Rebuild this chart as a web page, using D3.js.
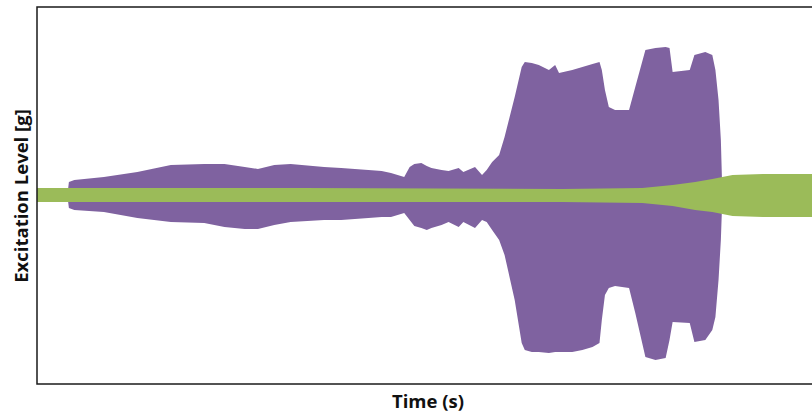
<!DOCTYPE html>
<meta charset="utf-8">
<script src="https://d3js.org/d3.v7.min.js"></script>
<style>
    body { margin: 0; background: #fff; }
    .axis-title { font-family: "Open Sans", sans-serif; font-weight: bold; fill: #111; }
</style>
<body>
</body>
<script>
    // Envelope of the two excitation signals
    // time in seconds, levels in g (upper and lower edge of each band)
    var purpleTime  = [3.9, 4.1, 4.8, 8.6, 12.9, 17.2, 21.5, 24.1, 26.7, 28.4, 30.5, 32.6, 36.9, 39.1, 42.6, 44.3, 45.5, 47.2, 47.9, 48.5, 49.4, 50.1, 50.7, 52.0, 52.9, 54.2, 54.8, 56.3, 57.2, 57.8, 58.5, 59.4, 60.1, 61.4, 62.3, 62.7, 63.6, 64.5, 65.8, 66.6, 67.1, 68.8, 70.1, 71.4, 72.3, 72.6, 73.0, 73.5, 74.3, 76.1, 76.9, 78.2, 79.5, 80.8, 81.3, 81.7, 83.9, 84.5, 85.9, 86.8, 87.2, 87.6, 87.9, 88.1];
    var purpleUpper = [0, 0.72, 0.82, 0.98, 1.25, 1.62, 1.67, 1.67, 1.51, 1.41, 1.62, 1.67, 1.51, 1.46, 1.35, 1.30, 1.19, 0.98, 1.51, 1.67, 1.72, 1.56, 1.46, 1.35, 1.30, 1.46, 1.25, 1.51, 1.09, 1.35, 1.78, 2.15, 3.10, 5.23, 6.82, 7.08, 7.03, 6.92, 6.66, 6.92, 6.50, 6.66, 6.82, 6.98, 7.08, 6.66, 5.60, 4.69, 4.54, 4.54, 5.76, 7.72, 7.82, 7.88, 7.82, 6.55, 6.66, 7.45, 7.61, 7.45, 6.66, 5.07, 2.94, 0];
    var purpleLower = [0, -0.66, -0.77, -0.88, -1.19, -1.41, -1.46, -1.67, -1.78, -1.78, -1.56, -1.41, -1.30, -1.30, -1.19, -1.14, -1.14, -0.93, -1.30, -1.62, -1.72, -1.83, -1.72, -1.56, -1.41, -1.67, -1.41, -1.72, -1.30, -1.41, -1.83, -2.36, -3.16, -5.54, -7.82, -8.20, -8.30, -8.30, -8.36, -8.30, -8.30, -8.30, -8.20, -8.04, -7.82, -6.60, -5.28, -4.91, -4.80, -4.91, -6.23, -8.57, -8.73, -8.62, -7.67, -6.71, -6.76, -7.77, -7.67, -7.14, -6.45, -4.48, -2.36, 0];

    var greenTime  = [0, 33.9, 67.5, 77.8, 81.7, 84.6, 86.8, 88.1, 89.4, 93.3, 100];
    var greenUpper = [0.40, 0.40, 0.34, 0.40, 0.56, 0.72, 0.88, 0.98, 1.09, 1.14, 1.14];
    var greenLower = [-0.34, -0.34, -0.34, -0.40, -0.56, -0.77, -0.88, -0.98, -1.09, -1.14, -1.14];

    var margin = {top: 7, right: -3, bottom: 31, left: 37},
        width  = 812 - margin.left - margin.right,
        height = 415 - margin.top - margin.bottom;

    var svg = d3.select("body")
            .append("svg")
                .attr("width", 812)
                .attr("height", 415);

    var g = svg.append("g")
            .attr("transform", "translate(" + margin.left + "," + margin.top + ")");

    var xScale = d3.scaleLinear().domain([0, 100]).range([0, width]);
    var yScale = d3.scaleLinear().domain([-10, 10]).range([height, 0]);

    var purple = purpleTime.map(function(t, i) { return {t: t, hi: purpleUpper[i], lo: purpleLower[i]}; });
    var green  = greenTime.map(function(t, i) { return {t: t, hi: greenUpper[i], lo: greenLower[i]}; });

    var band = d3.area()
        .x(function(d) { return xScale(d.t); })
        .y0(function(d) { return yScale(d.lo); })
        .y1(function(d) { return yScale(d.hi); });

    g.append("path")
        .datum(purple)
        .attr("fill", "#7f62a0")
        .attr("d", band);

    g.append("path")
        .datum(green)
        .attr("fill", "#9bbb59")
        .attr("d", band);

    // frame (right side runs off the picture)
    g.append("rect")
        .attr("x", 0).attr("y", 0)
        .attr("width", width).attr("height", height)
        .attr("fill", "none")
        .attr("stroke", "#1a1a1a")
        .attr("stroke-width", 1.5);

    svg.append("text")
        .attr("class", "axis-title")
        .attr("x", 428)
        .attr("y", 408)
        .attr("text-anchor", "middle")
        .style("font-size", "18.5px")
        .text("Time (s)");

    svg.append("text")
        .attr("class", "axis-title")
        .attr("transform", "translate(28,196) rotate(-90)")
        .attr("text-anchor", "middle")
        .style("font-size", "18.5px")
        .text("Excitation Level [g]");
</script>
